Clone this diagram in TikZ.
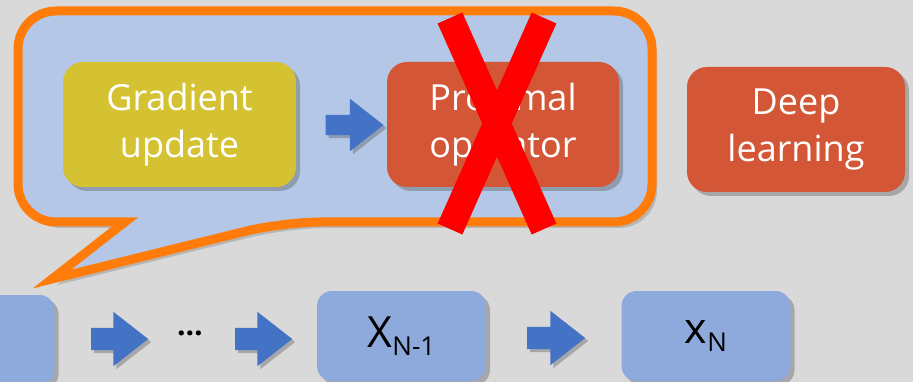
\documentclass[tikz,border=0pt]{standalone}
\usepackage{fontspec}
\setmainfont{Open Sans}
\usetikzlibrary{shapes.arrows,shadows}
\definecolor{bggray}{RGB}{217,217,217}
\definecolor{calloutfill}{RGB}{180,199,231}
\definecolor{calloutline}{RGB}{255,124,10}
\definecolor{gradfill}{RGB}{213,194,50}
\definecolor{proxfill}{RGB}{211,87,54}
\definecolor{arrowblue}{RGB}{68,114,196}
\definecolor{stepfill}{RGB}{142,169,219}
\definecolor{crossred}{RGB}{255,0,0}
\tikzset{
  boxshadow/.style={drop shadow={shadow xshift=4pt,shadow yshift=-4pt,opacity=0.35,fill=black!70}},
  bigbox/.style={rounded corners=20pt,minimum width=#1,minimum height=125pt,inner sep=0pt,
    text=white,align=center,font=\fontsize{36}{47}\selectfont,boxshadow},
  stepbox/.style={rounded corners=15pt,fill=stepfill,minimum width=169pt,minimum height=90pt,
    inner sep=0pt,boxshadow},
  blockarrow/.style={single arrow,fill=arrowblue,inner xsep=0pt,inner ysep=#1,
    single arrow head extend=16pt,single arrow tip angle=76,minimum height=58pt,
    drop shadow={shadow xshift=3pt,shadow yshift=-3pt,opacity=0.35,fill=black!70}},
  callout/.style={fill=calloutfill,draw=calloutline,line width=9pt,line join=miter,
    drop shadow={shadow xshift=5pt,shadow yshift=-6pt,opacity=0.3,fill=black!60}},
  cross/.style={draw=crossred,line width=27pt,line cap=butt},
}
\begin{document}
\begin{tikzpicture}[x=1pt,y=-1pt]
\useasboundingbox (0,0) rectangle (913,382);
\clip (0,0) rectangle (913,382);
\fill[bggray] (0,0) rectangle (913,382);
% callout
\draw[callout] (125,222) [rounded corners=38pt] -- (18,222) -- (18,11) -- (652,11) -- (652,222) -- (283,222) [sharp corners] -- (52,279) -- cycle;
% upper boxes
\node[bigbox=233pt,fill=gradfill] (grad) at (179.5,124.5) {Gradient\\update};
\node[bigbox=232pt,fill=proxfill] (prox) at (503,124.5) {Proximal\\operator};
\node[bigbox=218pt,fill=proxfill] (deep) at (796,129.5) {Deep\\learning};
\node[blockarrow=10pt] (a0) at (348,125) {};
% cross
\coordinate (ca1) at (450,18);
\coordinate (ca2) at (544,229);
\coordinate (cb1) at (544,18);
\coordinate (cb2) at (450,229);
\draw[cross] (ca1) -- (ca2);
\draw[cross] (cb1) -- (cb2);
% bottom row
\node[stepbox] (x1) at (-30,340) {};
\node[blockarrow=11pt,minimum height=57pt] (a1) at (112.5,339) {};
\node[font=\fontsize{30}{30}\bfseries\selectfont] (dots) at (190,333) {\ldots};
\node[blockarrow=11pt,minimum height=57pt] (a2) at (256.5,339) {};
\node[stepbox] (xn1) at (401.5,336) {\fontsize{43}{43}\selectfont X\raisebox{-8pt}{\fontsize{26}{26}\selectfont N-1}};
\node[blockarrow=11pt,minimum height=58pt] (a3) at (549,338) {};
\node[stepbox] (xn) at (706,336) {\fontsize{43}{43}\selectfont x\raisebox{-8pt}{\fontsize{26}{26}\selectfont N}};
\end{tikzpicture}
\end{document}
